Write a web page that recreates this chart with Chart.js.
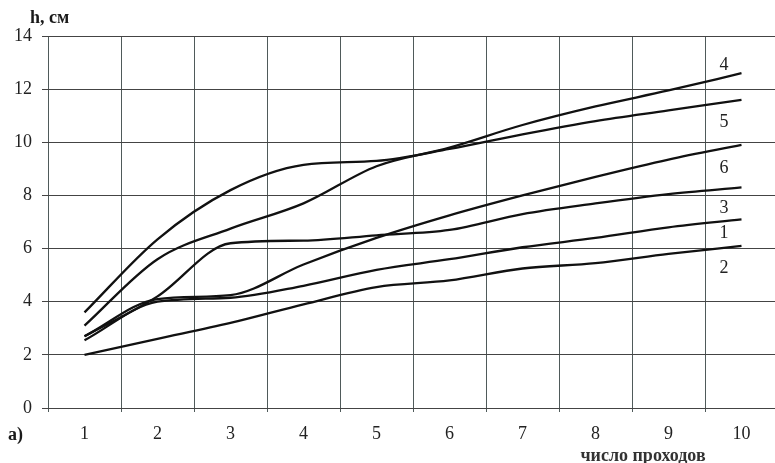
<!DOCTYPE html>
<html>
<head>
<meta charset="utf-8">
<script src="https://cdn.jsdelivr.net/npm/chart.js@4/dist/chart.umd.min.js"></script>
<style>
  html, body { margin: 0; padding: 0; background: #fff; overflow: hidden; }
  #wrap { position: relative; width: 780px; height: 463px; }
  canvas { display: block; }
</style>
</head>
<body>
<div id="wrap"><canvas id="c" width="780" height="463"></canvas></div>
<script>
// Number of passes
const passes = ['1', '2', '3', '4', '5', '6', '7', '8', '9', '10'];
// Height h, cm, for each curve
const curve1 = [2.55, 4.0, 4.15, 4.6, 5.2, 5.6, 6.05, 6.4, 6.8, 7.1];
const curve2 = [2.0, 2.6, 3.2, 3.9, 4.55, 4.8, 5.25, 5.45, 5.8, 6.1];
const curve3 = [2.7, 4.2, 6.2, 6.3, 6.5, 6.7, 7.3, 7.7, 8.05, 8.3];
const curve4 = [3.1, 5.6, 6.75, 7.7, 9.1, 9.8, 10.65, 11.35, 11.95, 12.6];
const curve5 = [3.6, 6.35, 8.2, 9.15, 9.3, 9.75, 10.3, 10.8, 11.2, 11.6];
const curve6 = [2.7, 4.1, 4.25, 5.4, 6.4, 7.25, 8.0, 8.7, 9.35, 9.9];
const curveNames = ['1', '2', '3', '4', '5', '6'];
const yTicks = [0, 2, 4, 6, 8, 10, 12, 14];

const serif = '"Liberation Serif", "DejaVu Serif", serif';
const curves = [curve1, curve2, curve3, curve4, curve5, curve6];

// Height (in h units) where each curve's number is written, right of the last grid column
const nameLevels = [6.58, 5.26, 7.52, 12.9, 10.76, 9.03];

const curveNamePlugin = {
  id: 'curveNames',
  afterDatasetsDraw(chart) {
    const { ctx, scales } = chart;
    const x = scales.x;
    const y = scales.y;
    const colX = (x.getPixelForValue(8) + x.getPixelForValue(9)) / 2 + 19;
    ctx.save();
    ctx.font = '18px ' + serif;
    ctx.fillStyle = '#222';
    ctx.textAlign = 'center';
    ctx.textBaseline = 'middle';
    curveNames.forEach((n, i) => ctx.fillText(n, colX, y.getPixelForValue(nameLevels[i])));
    ctx.restore();
  }
};

const captionPlugin = {
  id: 'captions',
  afterDraw(chart) {
    const { ctx } = chart;
    ctx.save();
    ctx.fillStyle = '#1a1a1a';
    ctx.textBaseline = 'middle';
    ctx.textAlign = 'left';
    ctx.font = 'bold 18px ' + serif;
    ctx.fillText('h, см', 30, 18);
    ctx.fillText('а)', 8, 435);
    ctx.font = 'bold 18px ' + serif;
    ctx.fillStyle = '#333';
    ctx.textAlign = 'center';
    ctx.fillText('число проходов', 643, 456);
    ctx.restore();
  }
};

new Chart(document.getElementById('c'), {
  type: 'line',
  data: {
    labels: passes,
    datasets: curves.map((d, i) => ({
      label: curveNames[i],
      data: d,
      borderColor: '#111',
      borderWidth: 2.3,
      pointRadius: 0,
      fill: false,
      cubicInterpolationMode: 'monotone'
    }))
  },
  options: {
    responsive: false,
    animation: false,
    layout: { padding: { top: 36, right: 2, bottom: 0, left: 0 } },
    plugins: { legend: { display: false }, tooltip: { enabled: false } },
    scales: {
      x: {
        type: 'category',
        offset: true,
        grid: { offset: true, color: '#4f5a5a', lineWidth: 1, tickLength: 4, drawTicks: true },
        border: { display: false },
        ticks: { color: '#222', font: { family: serif, size: 18 }, padding: 11, maxRotation: 0 },
        afterFit(s) { s.height = 55; }
      },
      y: {
        min: 0,
        max: 14,
        afterBuildTicks(s) { s.ticks = yTicks.map(v => ({ value: v })); },
        grid: { color: '#444', lineWidth: 1, tickLength: 6 },
        border: { display: false },
        ticks: { color: '#222', font: { family: serif, size: 18 }, padding: 10 },
        afterFit(s) { s.width = 48; }
      }
    }
  },
  plugins: [curveNamePlugin, captionPlugin]
});
</script>
</body>
</html>
